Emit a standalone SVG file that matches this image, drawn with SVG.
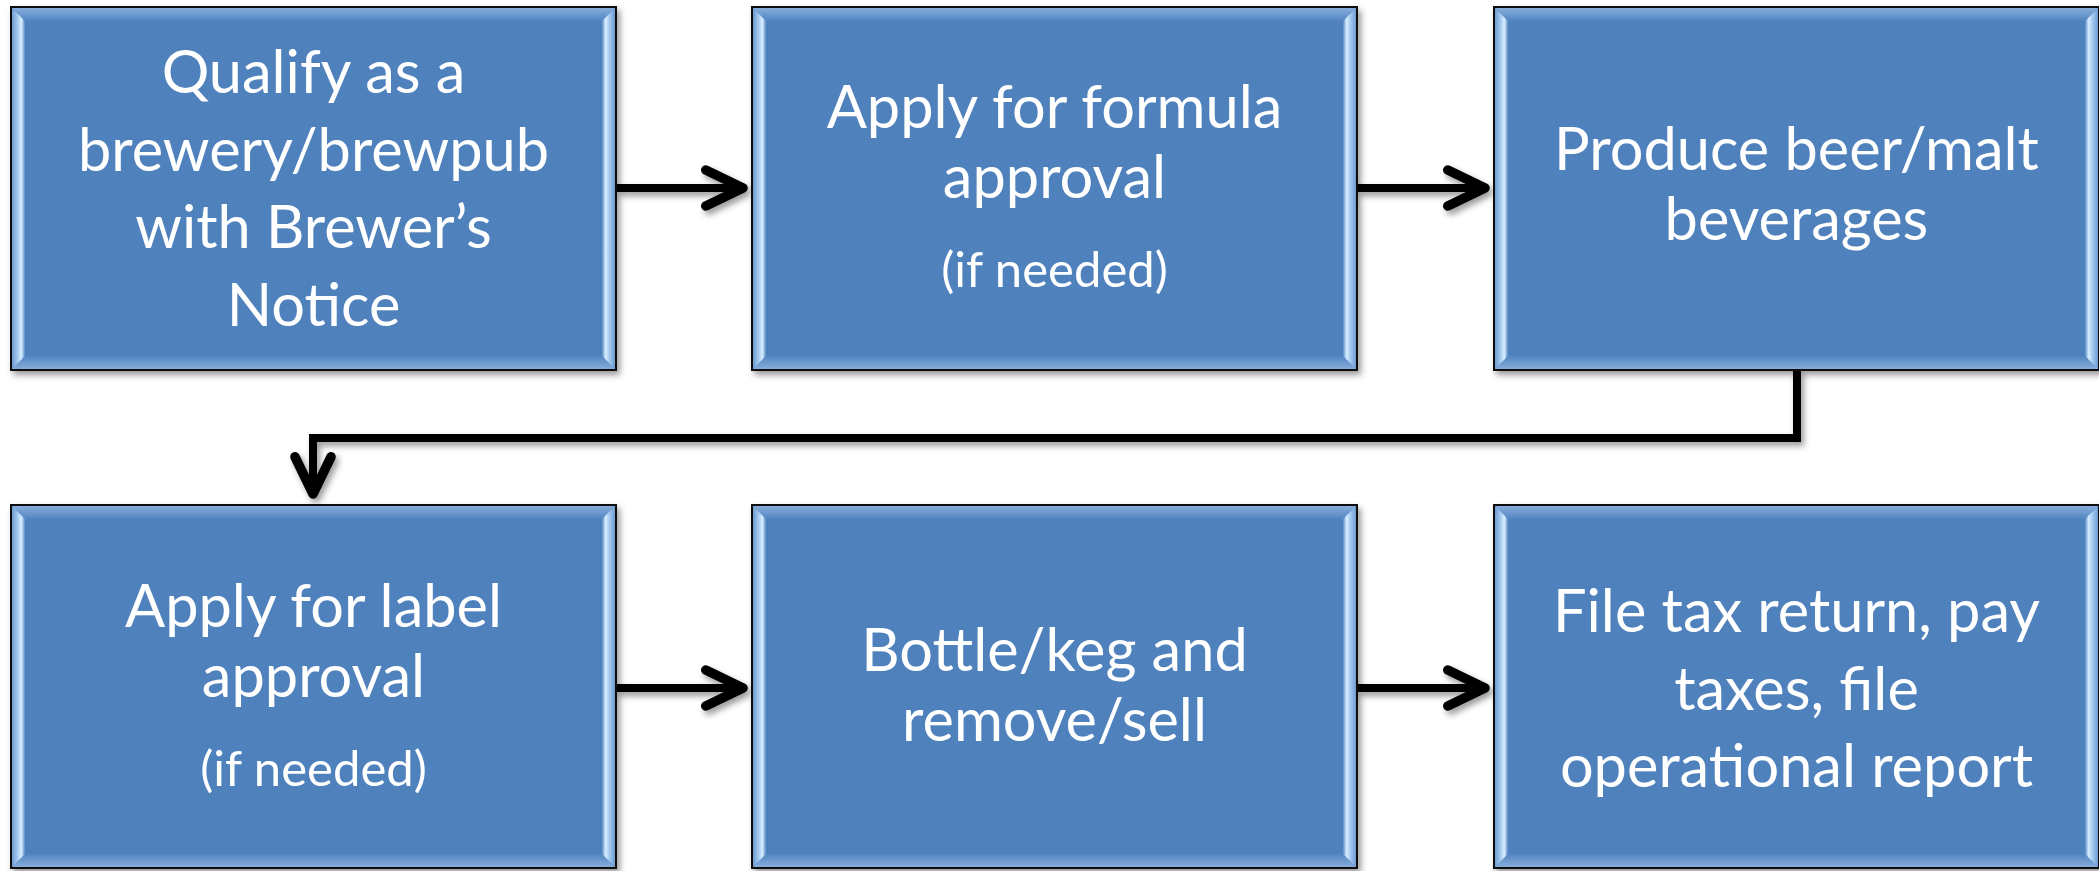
<svg xmlns="http://www.w3.org/2000/svg" xmlns:xlink="http://www.w3.org/1999/xlink" width="2099" height="871" viewBox="0 0 2099 871">
<style>
.lbl{font-family:Lato,"Open Sans","Liberation Sans",sans-serif;fill:#ffffff;text-anchor:middle;font-size:59.5px}
.sm{font-size:49px}
.conn{fill:none;stroke:#000;stroke-width:8;stroke-linejoin:miter}
</style>
<defs>
<filter id="shadow" x="-5%" y="-5%" width="112%" height="115%">
<feDropShadow dx="3" dy="4" stdDeviation="3" flood-color="#000" flood-opacity="0.4"/>
</filter>
<linearGradient id="bevL" x1="0" y1="0" x2="1" y2="0">
<stop offset="0" stop-color="#6e9bd2"/><stop offset="0.45" stop-color="#a6ccf0"/><stop offset="0.72" stop-color="#d9eeff"/><stop offset="1" stop-color="#5a8bc7"/>
</linearGradient>
<linearGradient id="bevR" x1="1" y1="0" x2="0" y2="0">
<stop offset="0" stop-color="#6e9bd2"/><stop offset="0.45" stop-color="#a6ccf0"/><stop offset="0.72" stop-color="#d9eeff"/><stop offset="1" stop-color="#5a8bc7"/>
</linearGradient>
<linearGradient id="bevT" x1="0" y1="0" x2="0" y2="1">
<stop offset="0" stop-color="#86addb"/><stop offset="1" stop-color="#5385c1"/>
</linearGradient>
<linearGradient id="bevB" x1="0" y1="0" x2="0" y2="1">
<stop offset="0" stop-color="#5385c1"/><stop offset="1" stop-color="#86addb"/>
</linearGradient>
<g id="box">
<rect x="0" y="0" width="605" height="363" fill="#4F81BD" stroke="#111" stroke-width="2" filter="url(#shadow)"/>
<polygon points="1,1 604,1 591,14 14,14" fill="url(#bevT)"/>
<polygon points="1,362 14,349 591,349 604,362" fill="url(#bevB)"/>
<polygon points="1,1 14,14 14,349 1,362" fill="url(#bevL)"/>
<polygon points="604,1 591,14 591,349 604,362" fill="url(#bevR)"/>
</g>
<marker id="chev" markerUnits="userSpaceOnUse" markerWidth="60" markerHeight="60" refX="0" refY="0" orient="auto" overflow="visible" viewBox="-40 -20 50 40">
<path d="M-31,-15 L0,0 L-31,15" fill="none" stroke="#000" stroke-width="8" stroke-linecap="round" stroke-linejoin="round"/>
</marker>
</defs>
<rect width="2099" height="871" fill="#fff"/>
<g id="connectors" filter="url(#shadow)">
<path class="conn" d="M616,188 H743" marker-end="url(#chev)"/>
<path class="conn" d="M1357,188 H1485" marker-end="url(#chev)"/>
<path class="conn" d="M1797,370 V438 H313 V494" marker-end="url(#chev)"/>
<path class="conn" d="M616,688 H743" marker-end="url(#chev)"/>
<path class="conn" d="M1357,688 H1485" marker-end="url(#chev)"/>
</g>
<g id="n1">
<use xlink:href="#box" x="11" y="7"/>
<text class="lbl" x="313.5" y="93">Qualify as a</text>
<text class="lbl" x="313.5" y="171">brewery/brewpub</text>
<text class="lbl" x="313.5" y="248">with Brewer’s</text>
<text class="lbl" x="313.5" y="326">Notice</text>
</g>
<g id="n2">
<use xlink:href="#box" x="752" y="7"/>
<text class="lbl" x="1054.5" y="128">Apply for formula</text>
<text class="lbl" x="1054.5" y="198">approval</text>
<text class="lbl sm" x="1054.5" y="287">(if needed)</text>
</g>
<g id="n3">
<use xlink:href="#box" x="1494" y="7"/>
<text class="lbl" x="1796.5" y="170">Produce beer/malt</text>
<text class="lbl" x="1796.5" y="240">beverages</text>
</g>
<g id="n4">
<use xlink:href="#box" x="11" y="505"/>
<text class="lbl" x="313.5" y="627">Apply for label</text>
<text class="lbl" x="313.5" y="697">approval</text>
<text class="lbl sm" x="313.5" y="786">(if needed)</text>
</g>
<g id="n5">
<use xlink:href="#box" x="752" y="505"/>
<text class="lbl" x="1054.5" y="671">Bottle/keg and</text>
<text class="lbl" x="1054.5" y="741">remove/sell</text>
</g>
<g id="n6">
<use xlink:href="#box" x="1494" y="505"/>
<text class="lbl" x="1796.5" y="632">File tax return, pay</text>
<text class="lbl" x="1796.5" y="710">taxes, file</text>
<text class="lbl" x="1796.5" y="787">operational report</text>
</g>
</svg>
